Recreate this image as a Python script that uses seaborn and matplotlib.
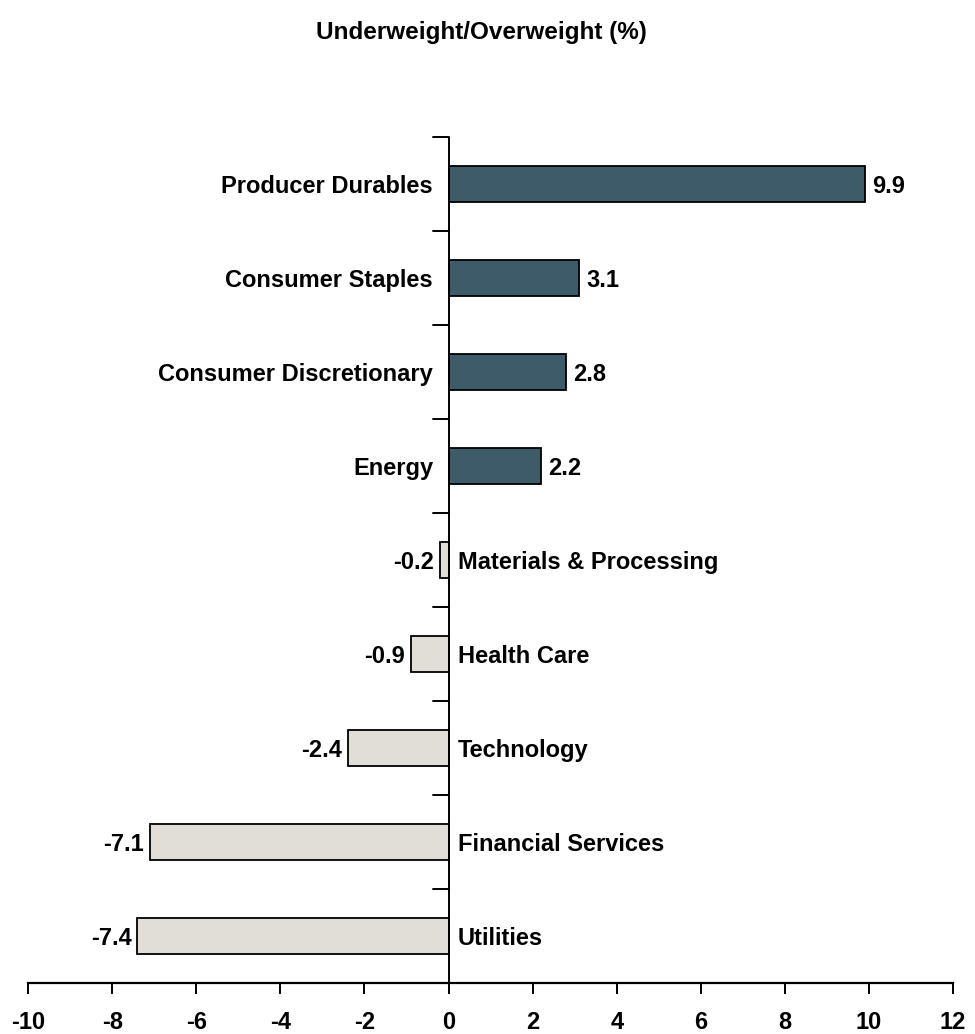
import matplotlib
matplotlib.use("Agg")
import matplotlib.pyplot as plt
import seaborn as sns
import pandas as pd
import numpy as np

sectors = ["Producer Durables", "Consumer Staples", "Consumer Discretionary", "Energy",
           "Materials & Processing", "Health Care", "Technology", "Financial Services", "Utilities"]
weights = [9.9, 3.1, 2.8, 2.2, -0.2, -0.9, -2.4, -7.1, -7.4]
x_ticks = [-10, -8, -6, -4, -2, 0, 2, 4, 6, 8, 10, 12]

DARK = "#3E5B6A"
LIGHT = "#E1DED7"
FS = 17

sns.set_theme(style="white")
plt.rcParams["font.family"] = ["Liberation Sans", "DejaVu Sans"]
plt.rcParams["font.weight"] = "bold"
plt.rcParams["text.color"] = "black"
plt.rcParams["xtick.color"] = "black"
plt.rcParams["ytick.color"] = "black"
plt.rcParams["axes.labelcolor"] = "black"

df = pd.DataFrame({"sector": sectors, "weight": weights})
df["side"] = np.where(df["weight"] >= 0, "over", "under")

fig = plt.figure(figsize=(9.75, 10.34), dpi=100)
ax = fig.add_axes([28.2 / 975, 1 - 983 / 1034, (953 - 28.2) / 975, (983 - 137) / 1034])

sns.barplot(data=df, x="weight", y="sector", hue="side", order=sectors,
            palette={"over": DARK, "under": LIGHT}, saturation=1, dodge=False, width=0.385,
            edgecolor="black", linewidth=1.3, legend=False, ax=ax, orient="h")

ax.set_xlim(-10, 12)
ax.set_ylim(8.5, -0.5)
ax.set_xticks(x_ticks)
ax.set_xticklabels([str(t) for t in x_ticks], fontsize=FS, fontweight="bold")
ax.set_yticks(np.arange(-0.5, 8, 1.0))
ax.set_yticklabels([])
ax.set_xlabel("")
ax.set_ylabel("")

for s in ["top", "right", "left"]:
    ax.spines[s].set_visible(False)
ax.spines["bottom"].set_linewidth(1.6)
ax.spines["bottom"].set_color("black")

# zero line acts as the category axis
ax.axvline(0, color="black", linewidth=1.4, zorder=5)
ax.tick_params(axis="x", direction="out", length=8, width=1.4, color="black", pad=12, bottom=True)
ax.tick_params(axis="y", left=False)
for yb in np.arange(-0.5, 8, 1.0):
    ax.plot([-0.37, 0], [yb, yb], color="black", linewidth=1.4, zorder=5, clip_on=False)

for i, (name, val) in enumerate(zip(sectors, weights)):
    if val >= 0:
        ax.text(-0.37, i, name, ha="right", va="center_baseline", fontsize=FS, fontweight="bold")
        ax.text(val + 0.17, i, f"{val:.1f}", ha="left", va="center_baseline", fontsize=FS, fontweight="bold")
    else:
        ax.text(0.22, i, name, ha="left", va="center_baseline", fontsize=FS, fontweight="bold")
        ax.text(val - 0.14, i, f"{val:.1f}", ha="right", va="center_baseline", fontsize=FS, fontweight="bold")

fig.text(481 / 975, 1 - 32 / 1034, "Underweight/Overweight (%)", ha="center", va="center",
         fontsize=17.5, fontweight="bold")

fig.savefig("out.png", dpi=100, facecolor="white")
